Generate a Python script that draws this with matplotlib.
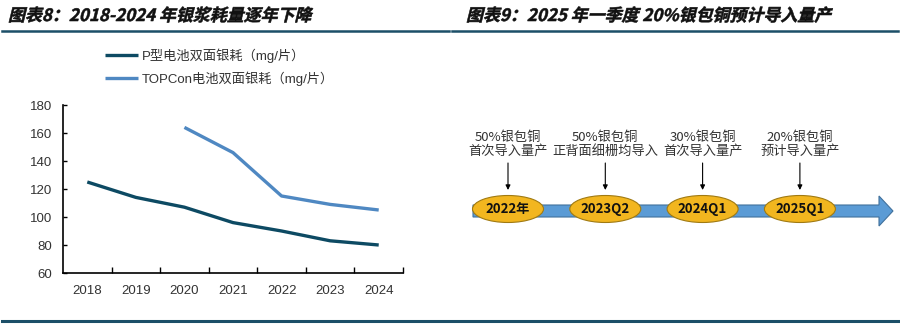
import matplotlib
matplotlib.use("Agg")
import matplotlib.pyplot as plt
from matplotlib.patches import Ellipse, FancyArrow, PathPatch
from matplotlib.textpath import TextPath
from matplotlib.font_manager import FontProperties
from matplotlib.transforms import Affine2D, IdentityTransform
from matplotlib.lines import Line2D

plt.rcParams['font.family'] = ['Liberation Sans', 'Noto Sans CJK SC', 'DejaVu Sans']

# data
years = ['2018', '2019', '2020', '2021', '2022', '2023', '2024']
p_type = [125, 114, 107, 96, 90, 83, 80]
topcon = [None, None, 164, 146, 115, 109, 105]
p_label = 'P型电池双面银耗（mg/片）'
topcon_label = 'TOPCon电池双面银耗（mg/片）'

title_left = '图表8：2018-2024 年银浆耗量逐年下降'
title_right = '图表9：2025 年一季度 20%银包铜预计导入量产'

milestones = ['2022年', '2023Q2', '2024Q1', '2025Q1']
notes = ['50%银包铜\n首次导入量产', '50%银包铜\n正背面细栅均导入',
         '30%银包铜\n首次导入量产', '20%银包铜\n预计导入量产']

W, H = 900, 326
fig = plt.figure(figsize=(W / 100, H / 100), dpi=100)

dark = '#0d4a63'
light = '#4f88c2'
rule = '#1c4f68'


def slanted(x, y, s, size):
    # fake bold italic title (CJK font has no italic)
    prop = FontProperties(family='Noto Sans CJK SC', weight='bold')
    tp = TextPath((0, 0), s, size=size * 100 / 72, prop=prop)
    tr = Affine2D().skew_deg(14, 0).translate(x, H - y)
    fig.patches.append(PathPatch(tp, transform=tr + IdentityTransform(),
                                 facecolor='#111111', edgecolor='#111111', lw=0.4))


slanted(8, 21, title_left, 12.2)
slanted(466, 21, title_right, 12.2)

# header / footer rules
for x0, x1 in [(2, 449), (452, 898)]:
    fig.add_artist(Line2D([x0 / W, x1 / W], [1 - 31 / H, 1 - 31 / H], color=rule, lw=1.8))
fig.add_artist(Line2D([2 / W, 898 / W], [1 - 321 / H, 1 - 321 / H], color=rule, lw=2.2))

# ---- left: line chart
ax = fig.add_axes([63 / W, 1 - 273 / H, 340 / W, 168 / H])
x = list(range(len(years)))
ax.plot(x, p_type, color=dark, lw=2.4, label=p_label, solid_capstyle='butt')
ax.plot(x, [v if v is not None else float('nan') for v in topcon], color=light, lw=2.4,
        label=topcon_label, solid_capstyle='butt')
ax.set_xlim(-0.5, len(years) - 0.5)
ax.set_ylim(60, 180)
ax.set_yticks(range(60, 181, 20))
ax.set_xticks(x)
ax.set_xticklabels(years)
ax.set_xticks([i + 0.5 for i in x], minor=True)
ax.tick_params(axis='x', which='major', length=0, pad=9, labelsize=9.5, labelcolor='#333333')
ax.tick_params(axis='x', which='minor', direction='in', length=4, width=1, color='black')
ax.tick_params(axis='y', direction='in', length=3, width=1, pad=8, labelsize=9.5, labelcolor='#333333')
for s in ['top', 'right']:
    ax.spines[s].set_visible(False)
for s in ['left', 'bottom']:
    ax.spines[s].set_linewidth(1.2)
ax.legend(loc='upper left', bbox_to_anchor=(105 / W, 1 - 48 / H), bbox_transform=fig.transFigure,
          frameon=False, fontsize=9.5, handlelength=2.5, handletextpad=0.3, labelspacing=0.65,
          borderpad=0, borderaxespad=0, labelcolor='#333333')

# ---- right: timeline
ax2 = fig.add_axes([460 / W, 1 - 250 / H, 440 / W, 150 / H])
step = 97.3
ax2.set_xlim((460 - 508) / step, (900 - 508) / step)
ax2.set_ylim(250, 100)
ax2.axis('off')

x_start = (473 - 508) / step
x_end = (893 - 508) / step
ax2.add_patch(FancyArrow(x_start, 211, x_end - x_start, 0, width=12, head_width=30,
                         head_length=14 / step, length_includes_head=True,
                         facecolor='#5b9bd5', edgecolor='#41719c', lw=0.8))

for i, (m, n) in enumerate(zip(milestones, notes)):
    ax2.add_patch(Ellipse((i, 209), 71 / step, 27, facecolor='#f2b61f',
                          edgecolor='#a07a12', lw=0.8, zorder=3))
    ax2.text(i, 209.5, m, ha='center', va='center', fontsize=9.5, fontweight='bold',
             family=['Noto Sans CJK SC'], color='#111111', zorder=4)
    ax2.text(i, 144, n, ha='center', va='center', fontsize=9.5, linespacing=1.1,
             family=['Noto Sans CJK SC'], color='#333333')
    ax2.annotate('', xy=(i, 190), xytext=(i, 163),
                 arrowprops=dict(arrowstyle='-|>', color='black', lw=0.8,
                                 mutation_scale=7, shrinkA=0, shrinkB=0))

fig.savefig('out.png', dpi=100)
